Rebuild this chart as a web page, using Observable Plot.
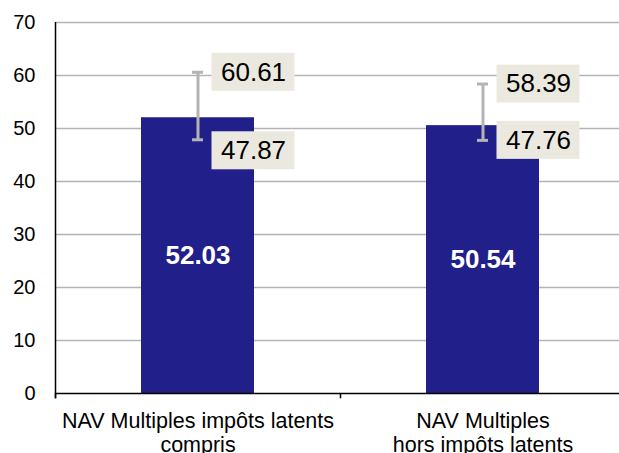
<!DOCTYPE html>
<html>
<head>
<meta charset="utf-8">
<script src="https://cdn.jsdelivr.net/npm/d3@7"></script>
<script src="https://cdn.jsdelivr.net/npm/@observablehq/plot@0.6"></script>
<style>
  html, body { margin: 0; padding: 0; background: #fff; overflow: hidden; }
  #chart svg { display: block; }
</style>
</head>
<body>
<div id="chart"></div>
<script>
// ---- data ----
const categories = ["NAV Multiples impôts latents\ncompris", "NAV Multiples\nhors impôts latents"];
const means = [52.03, 50.54];
const lows = [47.87, 47.76];
const highs = [60.61, 58.39];
const yTicks = [0, 10, 20, 30, 40, 50, 60, 70];

// ---- layout / style constants ----
const W = 619, H = 453;
const ML = 55, MT = 22, MB = 60;
const X0 = 55, X1 = 625;
const BAND = (X1 - X0) / categories.length;
const BAR_W = 113;
const CAP_W = 11;
const BOX_OFF = 14, BOX_W = 83, BOX_H = 38; // px
const PX_PER_UNIT = (H - MT - MB) / 70;
const HALF_BOX = (BOX_H / 2) / PX_PER_UNIT;
const lowNudge = [11, 0]; // px shift for crowded label
const FONT = "'Liberation Sans', Arial, Helvetica, sans-serif";
const navy = "#21208a";
const grey = "#b4b4b4";
const beige = "#ebe9df";

const rows = categories.map((c, i) => ({cat: c, mean: means[i], low: lows[i], high: highs[i], i}));
const hiLabels = rows.map(r => ({cat: r.cat, v: r.high, nudge: 0}));
const loLabels = rows.map(r => ({cat: r.cat, v: r.low, nudge: lowNudge[r.i]}));
const nudged = loLabels.filter(d => d.nudge !== 0);
const plainLabels = hiLabels.concat(loLabels.filter(d => d.nudge === 0));

const boxOpts = {
  x: "cat",
  y1: d => d.v - HALF_BOX,
  y2: d => d.v + HALF_BOX,
  fill: beige,
  insetLeft: BAND / 2 + BOX_OFF,
  insetRight: BAND / 2 - BOX_OFF - BOX_W
};
const labOpts = {x: "cat", y: "v", text: d => d.v.toFixed(2), textAnchor: "start", dx: BOX_OFF + 9, fontSize: 26, fill: "#000", lineAnchor: "middle"};

const chart = Plot.plot({
  width: W,
  height: H,
  marginLeft: ML,
  marginRight: 0,
  marginTop: MT,
  marginBottom: MB,
  style: {fontFamily: FONT, fontSize: "20px", color: "#000", background: "#fff"},
  x: {type: "band", domain: categories, range: [X0, X1], paddingInner: 0, paddingOuter: 0, axis: null},
  y: {domain: [0, 70], ticks: yTicks, tickSize: 0, tickPadding: 20, label: null, tickFormat: d => String(d)},
  marks: [
    Plot.ruleY(yTicks.filter(t => t > 0), {stroke: grey, strokeWidth: 1.5}),
    Plot.barY(rows, {x: "cat", y: "mean", fill: navy, insetLeft: (BAND - BAR_W) / 2, insetRight: (BAND - BAR_W) / 2}),
    // y axis line
    Plot.ruleX(categories.slice(0, 1), {x: d => d, dx: -BAND / 2, y1: -1, y2: 70, stroke: "#000", strokeWidth: 1.5}),
    // x baseline + boundary ticks
    Plot.ruleY([0], {stroke: "#000", strokeWidth: 1.5}),
    Plot.ruleX(categories, {x: d => d, dx: -BAND / 2, y1: -1, y2: 0, stroke: "#000", strokeWidth: 1.5}),
    // error bars
    Plot.ruleX(rows, {x: "cat", y1: "low", y2: "high", stroke: grey, strokeWidth: 3}),
    Plot.tickY(rows, {x: "cat", y: "low", stroke: grey, strokeWidth: 3, insetLeft: (BAND - CAP_W) / 2, insetRight: (BAND - CAP_W) / 2}),
    Plot.tickY(rows, {x: "cat", y: "high", stroke: grey, strokeWidth: 3, insetLeft: (BAND - CAP_W) / 2, insetRight: (BAND - CAP_W) / 2}),
    // bar value labels
    Plot.text(rows, {x: "cat", y: d => d.mean / 2, text: d => d.mean.toFixed(2), fill: "#fff", fontWeight: "bold", fontSize: 26, lineAnchor: "middle"}),
    // error value labels with beige boxes
    Plot.barY(plainLabels, boxOpts),
    Plot.text(plainLabels, labOpts),
    Plot.barY(nudged, {...boxOpts, dy: lowNudge[0]}),
    Plot.text(nudged, {...labOpts, dy: lowNudge[0]}),
    // category labels
    Plot.text(categories, {x: d => d, y: 0, text: d => d, dy: 18, lineAnchor: "top", lineHeight: 1.1, fontSize: 21.5, fill: "#000"})
  ]
});

document.getElementById("chart").appendChild(chart);
</script>
</body>
</html>
